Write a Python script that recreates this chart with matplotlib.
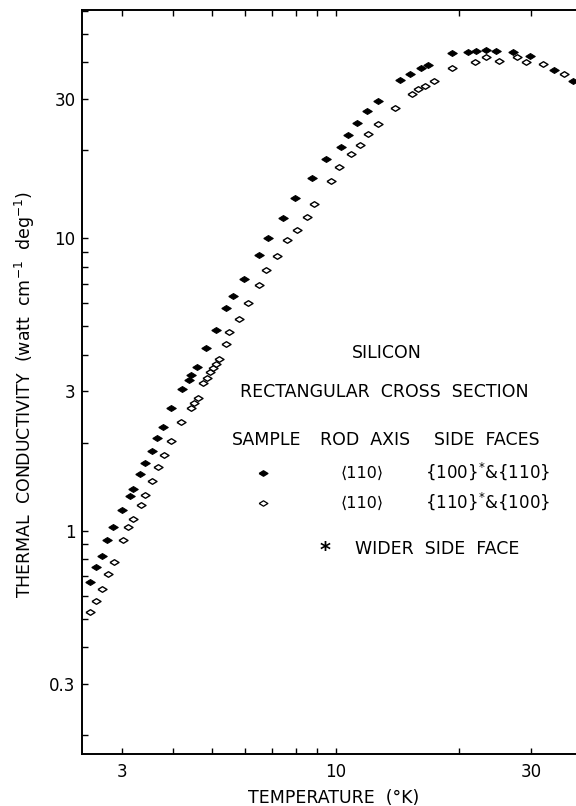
import numpy as np
import matplotlib
matplotlib.use('Agg')
import matplotlib.pyplot as plt
from matplotlib.ticker import FixedLocator, FixedFormatter, LogLocator, NullFormatter

# filled diamonds: <110> rod, side faces {100}* & {110}
temp_a = [2.51, 2.60, 2.68, 2.77, 2.86, 3.01, 3.14, 3.20, 3.33, 3.42,
          3.56, 3.66, 3.79, 3.96, 4.22, 4.39, 4.44, 4.58, 4.82, 5.10,
          5.39, 5.61, 5.98, 6.50, 6.85, 7.42, 7.96, 8.74, 9.49, 10.3,
          10.7, 11.3, 11.9, 12.7, 14.4, 15.2, 16.2, 16.8, 19.3, 21.1,
          22.0, 23.3, 24.7, 27.2, 29.8, 34.1, 38.1]
cond_a = [0.669, 0.749, 0.821, 0.927, 1.03, 1.18, 1.31, 1.39, 1.56, 1.71,
          1.88, 2.07, 2.26, 2.63, 3.05, 3.27, 3.40, 3.63, 4.22, 4.84,
          5.76, 6.33, 7.28, 8.77, 10.0, 11.7, 13.7, 16.1, 18.7, 20.6,
          22.6, 24.8, 27.2, 29.5, 34.8, 36.4, 38.3, 39.2, 42.9, 43.5,
          43.6, 44.0, 43.8, 43.3, 42.0, 37.8, 34.5]

# open diamonds: <110> rod, side faces {110}* & {100}
temp_b = [2.51, 2.60, 2.68, 2.78, 2.87, 3.02, 3.11, 3.20, 3.34, 3.43,
          3.55, 3.68, 3.80, 3.95, 4.20, 4.42, 4.51, 4.61, 4.75, 4.86,
          4.94, 5.02, 5.11, 5.19, 5.39, 5.50, 5.79, 6.10, 6.51, 6.76,
          7.18, 7.60, 8.04, 8.50, 8.85, 9.73, 10.2, 10.9, 11.5, 12.0,
          12.7, 14.0, 15.4, 15.9, 16.5, 17.4, 19.2, 21.9, 23.3, 25.1,
          27.7, 29.2, 32.1, 36.1]
cond_b = [0.529, 0.577, 0.631, 0.711, 0.779, 0.928, 1.03, 1.10, 1.22, 1.32,
          1.48, 1.65, 1.82, 2.03, 2.35, 2.63, 2.74, 2.85, 3.19, 3.34,
          3.48, 3.61, 3.73, 3.88, 4.34, 4.77, 5.31, 6.03, 6.92, 7.77,
          8.70, 9.86, 10.7, 11.8, 13.1, 15.7, 17.6, 19.5, 20.9, 22.7,
          24.6, 28.0, 31.1, 32.4, 33.2, 34.5, 38.4, 40.2, 41.8, 40.5,
          41.7, 40.2, 39.4, 36.4]

x_ticks = [3, 10, 30]
x_labels = ['3', '10', '30']
y_ticks = [0.3, 1, 3, 10, 30]
y_labels = ['0.3', '1', '3', '10', '30']

W, H = 576, 806
fig = plt.figure(figsize=(W / 100, H / 100), dpi=100)


def px(x, y):
    # pixel position -> figure fraction
    return x / W, 1 - y / H


# right spine sits just past the picture's edge, as in the scan
ax = fig.add_axes([82 / W, 1 - 753.5 / H, 500 / W, 743.5 / H])
ax.set_xscale('log')
ax.set_yscale('log')
ax.set_xlim(2.4, 40)
ax.set_ylim(0.173, 60.4)

diamond = [(-1, 0), (0, 0.62), (1, 0), (0, -0.62), (-1, 0)]
ax.plot(temp_a, cond_a, ls='none', marker=diamond, ms=6.8,
        mfc='black', mec='black', mew=0.8)
ax.plot(temp_b, cond_b, ls='none', marker=diamond, ms=6.5,
        mfc='white', mec='black', mew=1.0)

ax.xaxis.set_major_locator(FixedLocator(x_ticks))
ax.xaxis.set_major_formatter(FixedFormatter(x_labels))
ax.xaxis.set_minor_locator(LogLocator(base=10, subs=np.arange(2, 10)))
ax.xaxis.set_minor_formatter(NullFormatter())
ax.yaxis.set_major_locator(FixedLocator(y_ticks))
ax.yaxis.set_major_formatter(FixedFormatter(y_labels))
ax.yaxis.set_minor_locator(LogLocator(base=10, subs=np.arange(2, 10)))
ax.yaxis.set_minor_formatter(NullFormatter())

ax.tick_params(which='both', direction='in', top=True, right=True,
               length=4, width=1, labelsize=12)
ax.tick_params(axis='x', pad=7)
ax.tick_params(axis='y', pad=4.5)
for s in ax.spines.values():
    s.set_linewidth(1.4)

# axis titles
fig.text(*px(334, 798), 'TEMPERATURE  (°K)', ha='center', va='center',
         fontsize=12.5)
fig.text(*px(25, 394), 'THERMAL  CONDUCTIVITY  (watt  cm$^{-1}$  deg$^{-1}$)',
         ha='center', va='center', rotation=90, fontsize=12.5)

# key
fig.text(*px(387, 353), 'SILICON', ha='center', va='center', fontsize=12.5)
fig.text(*px(384, 392), 'RECTANGULAR  CROSS  SECTION', ha='center',
         va='center', fontsize=12.5)
fig.text(*px(267, 440), 'SAMPLE', ha='center', va='center', fontsize=12.5)
fig.text(*px(365, 440), 'ROD  AXIS', ha='center', va='center', fontsize=12.5)
fig.text(*px(487, 440), 'SIDE  FACES', ha='center', va='center', fontsize=12.5)

ax.plot(*px(263, 473), ls='none', marker=diamond, ms=6.3, mfc='black',
        mec='black', transform=fig.transFigure, clip_on=False)
ax.plot(*px(263, 503), ls='none', marker=diamond, ms=6.3, mfc='white',
        mec='black', mew=0.9, transform=fig.transFigure, clip_on=False)
fig.text(*px(362, 473), '⟨110⟩', ha='center', va='center', fontsize=11.5)
fig.text(*px(362, 503), '⟨110⟩', ha='center', va='center', fontsize=11.5)
fig.text(*px(488, 471), '{100}$^{*}$&{110}', ha='center', va='center',
         fontsize=12)
fig.text(*px(488, 501), '{110}$^{*}$&{100}', ha='center', va='center',
         fontsize=12)

fig.text(*px(325, 551), '*', ha='center', va='center', fontsize=15,
         fontweight='bold')
fig.text(*px(437, 549), 'WIDER  SIDE  FACE', ha='center', va='center',
         fontsize=12.5)

fig.savefig('out.png', dpi=100)
